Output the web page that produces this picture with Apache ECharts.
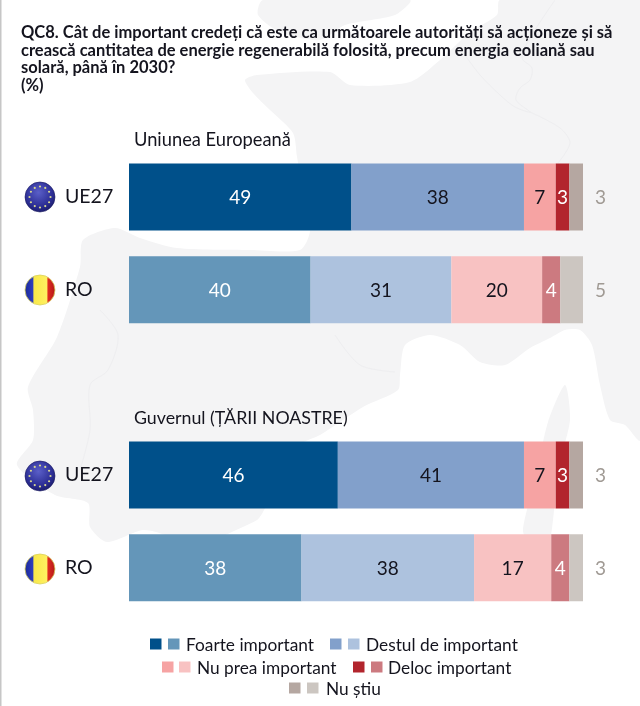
<!DOCTYPE html>
<html><head><meta charset="utf-8">
<style>html,body{margin:0;padding:0;background:#fff}#c{width:640px;height:706px}</style>
<script src="https://cdn.jsdelivr.net/npm/echarts@6/dist/echarts.min.js"></script>
</head><body><div id="c"></div>
<script>
const categories = ['UE27','RO','','UE27','RO'];
const foarte = [49,40,null,46,38];
const destul = [38,31,null,41,38];
const nuPrea = [7,20,null,7,17];
const deloc  = [3,4,null,3,4];
const nuStiu = [3,5,null,3,3];
const seriesNames = ['Foarte important','Destul de important','Nu prea important','Deloc important','Nu știu'];
const darkColors  = ['#00508a','#82a0cb','#f6a3a3','#b2252d','#b5a7a1'];
const lightColors = ['#6496b9','#adc2de','#f8c2c2','#cc7a80','#ccc6c1'];
const labelColors = ['#fff','#14141e','#14141e','#fff','#a09a94'];
const titleLines = ['QC8. Cât de important credeți că este ca următoarele autorități să acționeze și să','crească cantitatea de energie regenerabilă folosită, precum energia eoliană sau','solară, până în 2030?','(%)'];
const groupTitles = ['Uniunea Europeană','Guvernul (ȚĂRII NOASTRE)'];
const FONT = 'Lato, "Open Sans", sans-serif';
const land = '#f4f4f5';
const g = [];
function poly(pts, fill){ g.push({type:'polygon',z:-10,silent:true,shape:{points:pts,smooth:0.25},style:{fill:fill||land}}); }
function line(pts){ g.push({type:'polyline',z:-9,silent:true,shape:{points:pts,smooth:0.3},style:{stroke:'#eeeef0',lineWidth:1,fill:null}}); }
// faint background map
poly([[263,0],[410,0],[395,15],[345,25],[320,40],[280,32],[258,15]]);
poly([[500,0],[640,0],[640,440],[625,425],[610,420],[600,385],[592,345],[580,330],[565,330],[550,338],[530,348],[505,365],[480,362],[460,345],[430,335],[405,345],[400,375],[398,390],[363,407],[320,435],[300,445],[263,512],[257,520],[222,537],[207,550],[192,550],[165,535],[143,530],[107,542],[90,527],[88,503],[55,495],[17,465],[33,440],[33,410],[28,387],[57,337],[80,267],[83,240],[115,228],[140,238],[177,248],[250,250],[300,250],[310,230],[297,157],[293,133],[270,110],[253,93],[245,80],[257,75],[330,72],[350,85],[410,82],[440,60],[470,32],[497,15]]);
poly([[565,385],[570,420],[558,470],[553,520],[548,543],[530,545],[523,530],[535,480],[548,422]]);
line([[465,55],[480,75],[500,95],[515,107],[530,112],[516,100],[520,88],[530,80],[532,68],[522,58],[530,38],[555,0]]);
line([[530,112],[560,128],[570,143],[558,163]]);
line([[100,310],[118,335],[108,370],[90,385],[90,430],[80,470]]);
line([[335,335],[360,365],[395,372]]);
g.push({type:'rect',z:-8,silent:true,shape:{x:0,y:0,width:1.5,height:706},style:{fill:'#c6c6c6'}});
// title
titleLines.forEach((t,i)=>g.push({type:'text',z:10,x:21,y:33+i*17.4,style:{text:t,font:'bold 16.5px '+FONT,fill:'#14141e',textVerticalAlign:'middle'}}));
g.push({type:'text',z:10,x:134,y:140,style:{text:groupTitles[0],font:'18.3px '+FONT,fill:'#14141e',textVerticalAlign:'middle'}});
g.push({type:'text',z:10,x:134,y:418,style:{text:groupTitles[1],font:'17.8px '+FONT,fill:'#14141e',textVerticalAlign:'middle'}});
// flags
function euFlag(cy){
  g.push({type:'circle',z:5,silent:true,shape:{cx:40,cy:cy,r:15},style:{stroke:'#1a1a5e',lineWidth:.6,fill:{type:'radial',x:.45,y:.35,r:.75,colorStops:[{offset:0,color:'#5a5fc8'},{offset:.6,color:'#2d2f96'},{offset:1,color:'#14145a'}]}}});
  for(let i=0;i<12;i++){const a=i*Math.PI/6;
    g.push({type:'circle',z:6,silent:true,shape:{cx:40+10.5*Math.cos(a),cy:cy+10.5*Math.sin(a),r:1.1},style:{fill:'#d8d890'}});}
}
function roFlag(cy){
  g.push({type:'circle',z:5,silent:true,shape:{cx:40,cy:cy,r:15},style:{stroke:'#d8d060',lineWidth:.8,fill:{type:'linear',x:0,y:0,x2:1,y2:0,colorStops:[{offset:0,color:'#1c2a96'},{offset:.27,color:'#2c3cc0'},{offset:.3,color:'#f8e84a'},{offset:.72,color:'#fff060'},{offset:.76,color:'#e02a20'},{offset:1,color:'#b01818'}]}}});
}
euFlag(197); roFlag(290); euFlag(476); roFlag(569);
// legend
const legendRows = [
 [0,644,150,168,186],[1,644,330,348,366],
 [2,667,162,179,197],[3,667,353,371,388],
 [4,688,289,307,326]];
legendRows.forEach(([i,y,a,b,t])=>{
  g.push({type:'rect',z:10,silent:true,shape:{x:a,y:y-5.5,width:11.5,height:11},style:{fill:darkColors[i]}});
  g.push({type:'rect',z:10,silent:true,shape:{x:b,y:y-5.5,width:11.5,height:11},style:{fill:lightColors[i]}});
  g.push({type:'text',z:10,x:t,y:y+1,style:{text:seriesNames[i],font:'17.3px '+FONT,fill:'#14141e',textVerticalAlign:'middle'}});
});
const allValues = [foarte,destul,nuPrea,deloc,nuStiu];
const series = allValues.map((vals,s)=>({
  name:seriesNames[s],type:'bar',stack:'t',barWidth:67,silent:true,
  data:vals.map((v,i)=>({value:v,itemStyle:{color:(i<2?i:i-3)===0?darkColors[s]:lightColors[s]}})),
  label:{show:true,position:s===4?'right':'inside',distance:12,offset:[0,1],color:labelColors[s],fontFamily:FONT,fontSize:19,
    formatter:p=>p.value==null?'':p.value}
}));
const chart = echarts.init(document.getElementById('c'),null,{renderer:'canvas'});
chart.setOption({
  animation:false,backgroundColor:'#fff',
  grid:{left:129,width:454,top:150.6,height:463.5,containLabel:false},
  xAxis:{type:'value',min:0,max:100,show:false},
  yAxis:{type:'category',inverse:true,data:categories,axisLine:{show:false},axisTick:{show:false},
    axisLabel:{align:'left',margin:64,fontFamily:FONT,fontSize:19.5,color:'#14141e',padding:[6,0,0,0]}},
  series:series,graphic:{elements:g}
});
</script></body></html>
